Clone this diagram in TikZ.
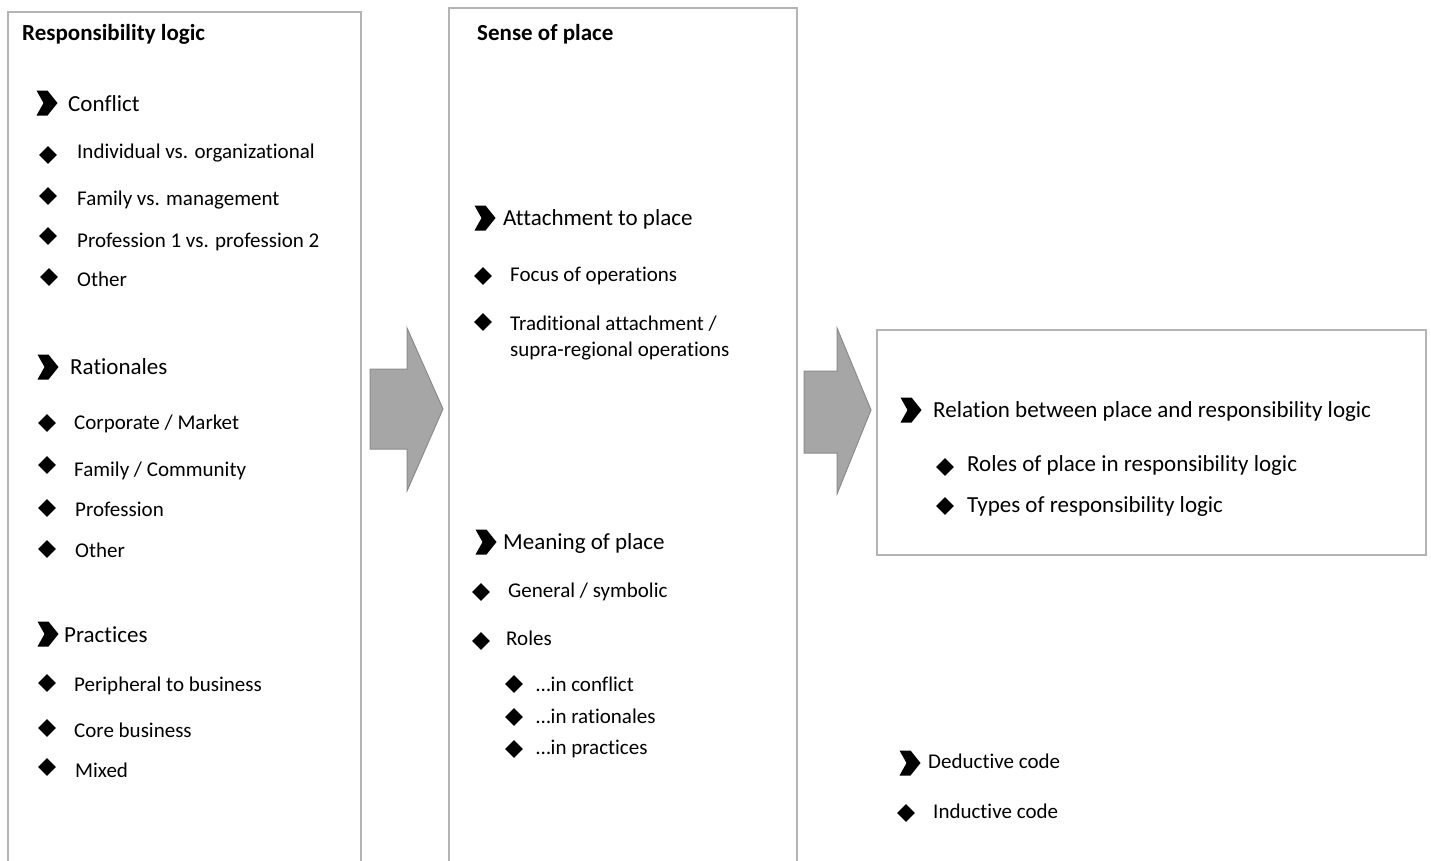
\documentclass[tikz,border=0pt]{standalone}
\usepackage{fontspec}
\setmainfont[Ligatures=NoCommon]{Carlito}
\usetikzlibrary{shapes.geometric}
\definecolor{boxgray}{HTML}{B4B4B4}
\definecolor{arrowgray}{HTML}{A6A6A6}
\definecolor{arrowedge}{HTML}{8C8C8C}
\begin{document}
\begin{tikzpicture}[x=1pt,y=-1pt,
  panel/.style={draw=boxgray,line width=1.5pt},
  label/.style={anchor=mid west,inner sep=0pt,yshift=-5pt,font=\fontsize{21}{25}\selectfont},
  headlabel/.style={anchor=mid west,inner sep=0pt,yshift=-5pt,font=\fontsize{23}{27}\selectfont},
  sublabel/.style={headlabel},
  title/.style={anchor=mid west,inner sep=0pt,yshift=-5pt,font=\bfseries\fontsize{23}{27}\selectfont},
  gem/.style={diamond,fill=black,inner sep=0pt,minimum size=18pt},
  blockarrow/.style={fill=arrowgray,draw=arrowedge,line width=1pt,line join=miter},
  chev/.pic={\fill[black] (-10.5,-12.5) -- (0.5,-12.5) -- (10.5,0) -- (0.5,12.5)
             -- (-10.5,12.5) -- (-3.5,0) -- cycle;}
]
\useasboundingbox (0,0) rectangle (1431,860);
\clip (0,0) rectangle (1431,860);

% panels
\draw[panel] (8,12) rectangle (361,880);
\draw[panel] (449,8) rectangle (797,880);
\draw[panel] (877,330) rectangle (1426,555);

% block arrows between the panels
\draw[blockarrow] (370,369) -- (407,369) -- (407,328) -- (443,409) -- (407,491)
  -- (407,449) -- (370,449) -- cycle;
\draw[blockarrow] (804,371) -- (837,371) -- (837,328) -- (871,410) -- (837,494)
  -- (837,453) -- (804,453) -- cycle;

% ---- Responsibility logic ----
\node[title] (rl) at (22,33) {Responsibility logic};

\pic (cA) at (47,103) {chev};
\node[headlabel] (conflict) at (68,104) {Conflict};
\node[gem] (d1) at (48,155) {};
\node[label] (t1) at (77,151) {Individual vs. organizational};
\node[gem] (d2) at (48,196) {};
\node[label] (t2) at (77,198) {Family vs. management};
\node[gem] (d3) at (48,236) {};
\node[label] (t3) at (77,240) {Profession 1 vs. profession 2};
\node[gem] (d4) at (49,277) {};
\node[label] (t4) at (77,279) {Other};

\pic (cB) at (48,367) {chev};
\node[headlabel] (rationales) at (70,367) {Rationales};
\node[gem] (d5) at (47,423) {};
\node[label] (t5) at (74,422) {Corporate / Market};
\node[gem] (d6) at (47,465) {};
\node[label] (t6) at (74,469) {Family / Community};
\node[gem] (d7) at (47,508) {};
\node[label] (t7) at (75,509) {Profession};
\node[gem] (d8) at (47,549) {};
\node[label] (t8) at (75,550) {Other};

\pic (cC) at (48,634) {chev};
\node[headlabel] (practices) at (64,635) {Practices};
\node[gem] (d9) at (47,683) {};
\node[label] (t9) at (74,684) {Peripheral to business};
\node[gem] (d10) at (47,728) {};
\node[label] (t10) at (74,730) {Core business};
\node[gem] (d11) at (47,767) {};
\node[label] (t11) at (75,770) {Mixed};

% ---- Sense of place ----
\node[title] (sp) at (477,33) {Sense of place};

\pic (cD) at (485,218) {chev};
\node[headlabel] (attach) at (503,218) {Attachment to place};
\node[gem] (d12) at (483,276) {};
\node[label] (t12) at (510,274) {Focus of operations};
\node[gem] (d13) at (483,322) {};
\node[label] (t13a) at (510,323) {Traditional attachment /};
\node[label] (t13b) at (510,349) {supra-regional operations};

\pic (cE) at (486,542) {chev};
\node[headlabel] (meaning) at (503,542) {Meaning of place};
\node[gem] (d14) at (481,592) {};
\node[label] (t14) at (508,590) {General / symbolic};
\node[gem] (d15) at (481,641) {};
\node[label] (t15) at (506,638) {Roles};
\node[gem] (d16) at (514,684) {};
\node[label] (t16) at (536,684) {\dots in conflict};
\node[gem] (d17) at (514,717) {};
\node[label] (t17) at (536,716) {\dots in rationales};
\node[gem] (d18) at (514,749) {};
\node[label] (t18) at (536,747) {\dots in practices};

% ---- Relation panel ----
\pic (cF) at (911,410) {chev};
\node[headlabel] (relation) at (933,410) {Relation between place and responsibility logic};
\node[gem] (d19) at (945,467) {};
\node[sublabel] (t19) at (967,464) {Roles of place in responsibility logic};
\node[gem] (d20) at (945,506) {};
\node[sublabel] (t20) at (967,505) {Types of responsibility logic};

% ---- Legend ----
\pic (cG) at (910,763) {chev};
\node[label] (ded) at (928,761) {Deductive code};
\node[gem] (d21) at (906,813) {};
\node[label] (ind) at (933,811) {Inductive code};
\end{tikzpicture}
\end{document}
